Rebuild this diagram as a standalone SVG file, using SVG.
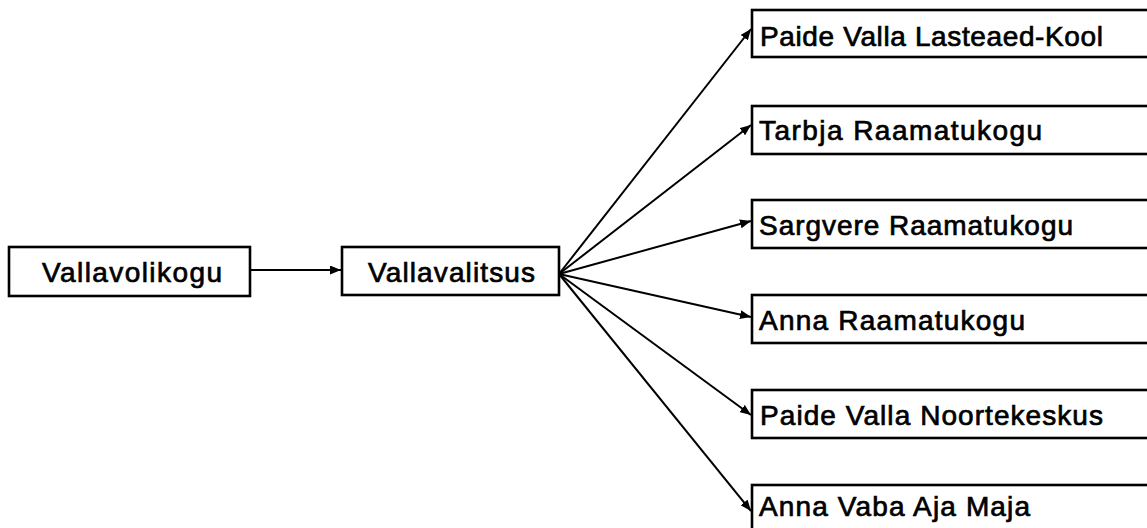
<svg xmlns="http://www.w3.org/2000/svg" width="1147" height="528" viewBox="0 0 1147 528">
<defs>
<style>
.box{fill:#fff;stroke:#000;stroke-width:2.6}
.t{font-family:"Liberation Sans",Arial,sans-serif;font-size:28px;fill:#000;stroke:#000;stroke-width:0.7}
.c{stroke:#000;stroke-width:2;fill:none}
</style>
<marker id="ah" viewBox="0 0 11 9" refX="11" refY="4.5" markerWidth="11" markerHeight="9" markerUnits="userSpaceOnUse" orient="auto">
<path d="M0,0 L11,4.5 L0,9 Z" fill="#000"/>
</marker>
</defs>
<rect width="1147" height="528" fill="#fff"/>
<g id="connectors">
<line class="c" x1="251" y1="270" x2="341" y2="270" marker-end="url(#ah)"/>
<line class="c" x1="559" y1="274" x2="751" y2="29" marker-end="url(#ah)"/>
<line class="c" x1="559" y1="274" x2="751" y2="125" marker-end="url(#ah)"/>
<line class="c" x1="559" y1="274" x2="751" y2="221" marker-end="url(#ah)"/>
<line class="c" x1="559" y1="274" x2="751" y2="317" marker-end="url(#ah)"/>
<line class="c" x1="559" y1="274" x2="751" y2="415" marker-end="url(#ah)"/>
<line class="c" x1="559" y1="274" x2="751" y2="511" marker-end="url(#ah)"/>
</g>
<g id="n-vallavolikogu">
<rect class="box" x="9" y="247" width="241" height="49"/>
<text class="t" x="42" y="282" textLength="180" lengthAdjust="spacing">Vallavolikogu</text>
</g>
<g id="n-vallavalitsus">
<rect class="box" x="342" y="247" width="217" height="48"/>
<text class="t" x="368" y="282" textLength="167" lengthAdjust="spacing">Vallavalitsus</text>
</g>
<g id="n-lasteaed">
<rect class="box" x="752" y="10" width="420" height="47"/>
<text class="t" x="760" y="46" textLength="343" lengthAdjust="spacing">Paide Valla Lasteaed-Kool</text>
</g>
<g id="n-tarbja">
<rect class="box" x="752" y="106" width="420" height="48"/>
<text class="t" x="759" y="140" textLength="283" lengthAdjust="spacing">Tarbja Raamatukogu</text>
</g>
<g id="n-sargvere">
<rect class="box" x="752" y="200" width="420" height="48"/>
<text class="t" x="759" y="235" textLength="314" lengthAdjust="spacing">Sargvere Raamatukogu</text>
</g>
<g id="n-anna">
<rect class="box" x="752" y="295" width="420" height="48"/>
<text class="t" x="759" y="330" textLength="266" lengthAdjust="spacing">Anna Raamatukogu</text>
</g>
<g id="n-noortekeskus">
<rect class="box" x="752" y="390" width="420" height="48"/>
<text class="t" x="760" y="425" textLength="343" lengthAdjust="spacing">Paide Valla Noortekeskus</text>
</g>
<g id="n-vabaaja">
<rect class="box" x="752" y="485" width="420" height="60"/>
<text class="t" x="759" y="516" textLength="271" lengthAdjust="spacing">Anna Vaba Aja Maja</text>
</g>
</svg>
